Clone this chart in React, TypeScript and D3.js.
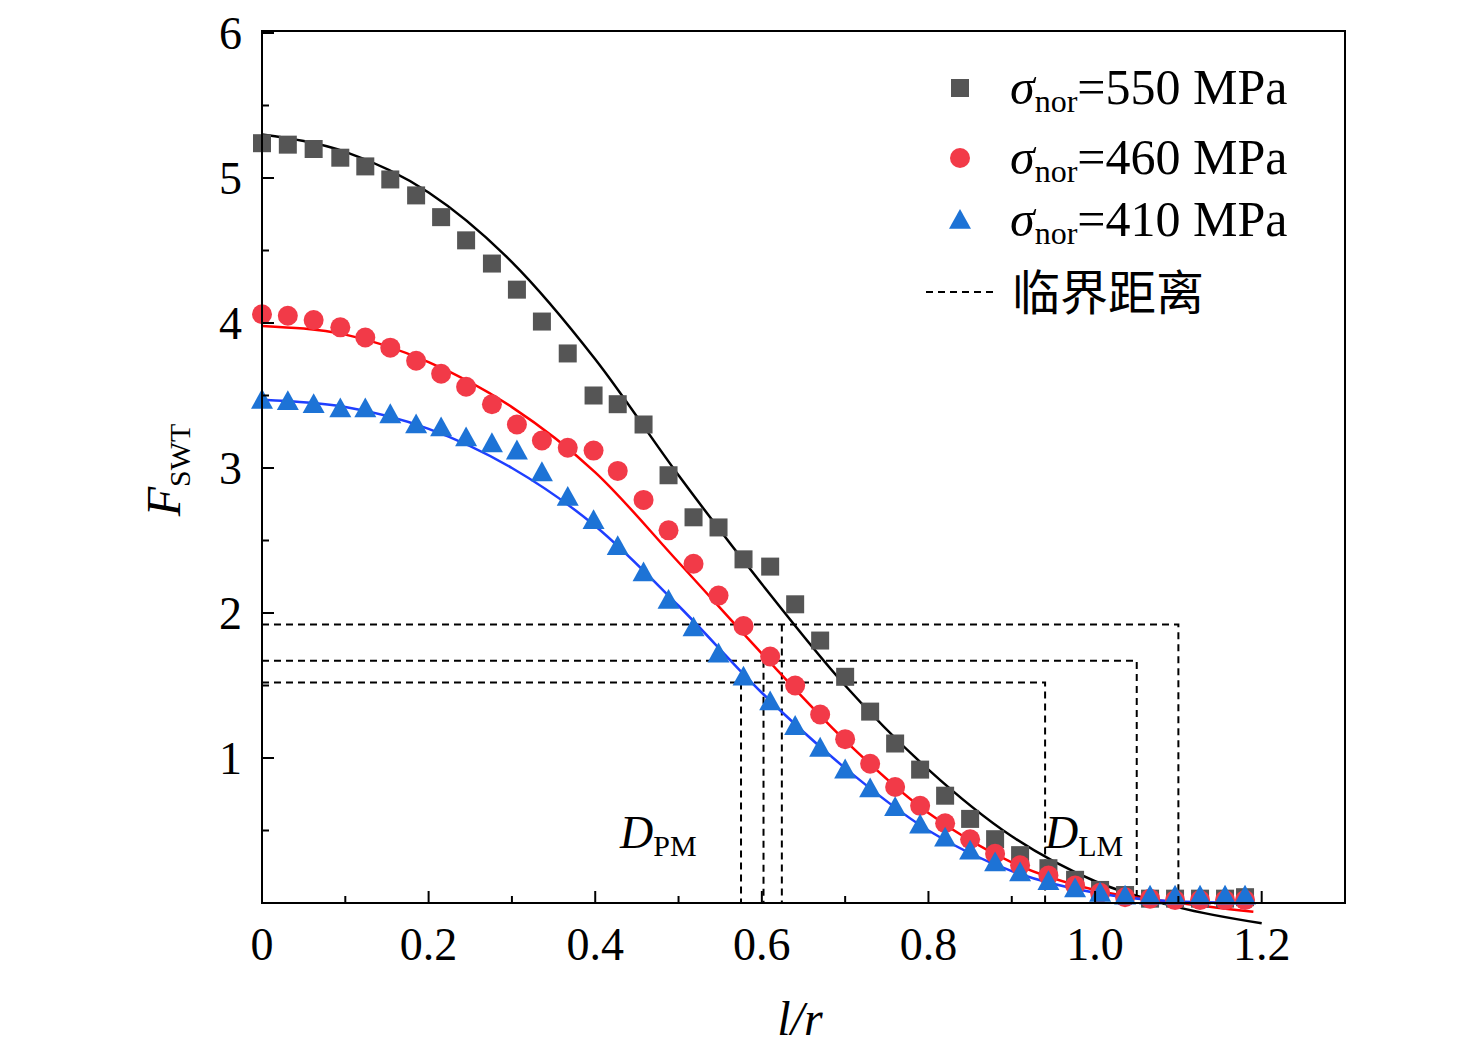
import React from "react";
import * as d3 from "d3";

const xs = [0, 0.031, 0.062, 0.094, 0.124, 0.154, 0.185, 0.215, 0.245, 0.276, 0.306, 0.336, 0.367, 0.398, 0.427, 0.458, 0.488, 0.518, 0.548, 0.578, 0.61, 0.64, 0.67, 0.7, 0.73, 0.76, 0.79, 0.82, 0.85, 0.88, 0.91, 0.944, 0.976, 1.006, 1.036, 1.066, 1.096, 1.126, 1.156, 1.18];
const sq550 = [5.24, 5.23, 5.2, 5.14, 5.08, 4.99, 4.88, 4.73, 4.57, 4.41, 4.23, 4.01, 3.79, 3.5, 3.44, 3.3, 2.95, 2.66, 2.59, 2.37, 2.32, 2.06, 1.81, 1.56, 1.32, 1.1, 0.92, 0.74, 0.58, 0.44, 0.33, 0.24, 0.16, 0.09, 0.055, 0.03, 0.03, 0.03, 0.03, 0.04];
const ci460 = [4.06, 4.05, 4.02, 3.97, 3.9, 3.83, 3.74, 3.65, 3.56, 3.44, 3.3, 3.19, 3.14, 3.12, 2.98, 2.78, 2.57, 2.34, 2.12, 1.91, 1.7, 1.5, 1.3, 1.13, 0.96, 0.8, 0.67, 0.55, 0.44, 0.34, 0.26, 0.19, 0.12, 0.07, 0.04, 0.03, 0.02, 0.02, 0.02, 0.02];
const tr410 = [3.47, 3.46, 3.44, 3.41, 3.41, 3.37, 3.3, 3.28, 3.21, 3.17, 3.12, 2.97, 2.8, 2.64, 2.46, 2.28, 2.09, 1.9, 1.72, 1.56, 1.39, 1.22, 1.07, 0.92, 0.79, 0.66, 0.54, 0.45, 0.36, 0.28, 0.21, 0.15, 0.1, 0.07, 0.05, 0.05, 0.05, 0.05, 0.05, 0.05];

const fitX = [0, 0.1, 0.2, 0.3, 0.4, 0.5, 0.6, 0.7, 0.8, 0.9, 1.0, 1.1, 1.2];
const fit550 = [5.3, 5.18, 4.9, 4.42, 3.75, 2.95, 2.2, 1.5, 0.92, 0.46, 0.15, -0.03, -0.14];
const fitXs = [0, 0.1, 0.2, 0.3, 0.4, 0.5, 0.6, 0.7, 0.8, 0.9, 1.0, 1.1, 1.19];
const fit460 = [3.98, 3.92, 3.73, 3.42, 2.97, 2.35, 1.72, 1.12, 0.62, 0.28, 0.09, 0.0, -0.06];
const fit410 = [3.47, 3.42, 3.27, 3.0, 2.6, 2.05, 1.45, 0.93, 0.5, 0.22, 0.07, 0.01, 0.0];

// critical distances: [F level, D_PM, D_LM]
const critical = [
  [1.92, 0.624, 1.1],
  [1.67, 0.602, 1.05],
  [1.52, 0.575, 0.94],
];

const xTicks = [0, 0.2, 0.4, 0.6, 0.8, 1.0, 1.2];
const yTicks = [1, 2, 3, 4, 5, 6];

export default function App() {
  const W = 1476, H = 1059;
  const x = d3.scaleLinear().domain([0, 1.3]).range([262, 1345]);
  const y = d3.scaleLinear().domain([0, 6]).range([903, 33]);
  const font = "'Liberation Serif', 'Times New Roman', serif";
  const line = (xa: number[], ya: number[]) =>
    d3.line<number>().x((_, i) => x(xa[i])).y((d) => y(d)).curve(d3.curveMonotoneX)(ya) || "";
  const tri = (cx: number, cy: number, s = 11) =>
    `M${cx},${cy - s} L${cx + s},${cy + s * 0.8} L${cx - s},${cy + s * 0.8} Z`;

  return (
    <svg width={W} height={H} style={{ position: "absolute", left: 0, top: 0, background: "#fff" }} fontFamily={font}>
      <rect x={0} y={0} width={W} height={H} fill="#fff" />
      {critical.map(([f, a, b], i) => (
        <g key={i} stroke="#000" strokeWidth={2} strokeDasharray="7,5" fill="none">
          <path d={`M${x(0)},${y(f)} H${x(b)} V${y(0)}`} />
          <path d={`M${x(a)},${y(f)} V${y(0)}`} />
        </g>
      ))}
      <path d={line(fitX, fit550)} stroke="#000" strokeWidth={2.5} fill="none" />
      <path d={line(fitXs, fit460)} stroke="#f00" strokeWidth={2.5} fill="none" />
      <path d={line(fitXs, fit410)} stroke="#1f3fff" strokeWidth={2.5} fill="none" />
      {xs.map((v, i) => (
        <rect key={"s" + i} x={x(v) - 9} y={y(sq550[i]) - 9} width={18} height={18} fill="#555" />
      ))}
      {xs.map((v, i) => (
        <circle key={"c" + i} cx={x(v)} cy={y(ci460[i])} r={10} fill="#f23a48" />
      ))}
      {xs.map((v, i) => (
        <path key={"t" + i} d={tri(x(v), y(tr410[i]))} fill="#1d73d6" />
      ))}
      <rect x={262} y={31} width={1083} height={872} fill="none" stroke="#000" strokeWidth={2} />
      {yTicks.map((t) => (
        <g key={t}>
          <line x1={262} x2={274} y1={y(t)} y2={y(t)} stroke="#000" strokeWidth={2} />
          <line x1={262} x2={269} y1={y(t - 0.5)} y2={y(t - 0.5)} stroke="#000" strokeWidth={2} />
          <text x={242} y={y(t) + 16} fontSize={46} textAnchor="end">{t}</text>
        </g>
      ))}
      {xTicks.map((t) => (
        <g key={t}>
          <line x1={x(t)} x2={x(t)} y1={903} y2={891} stroke="#000" strokeWidth={2} />
          <line x1={x(t + 0.1)} x2={x(t + 0.1)} y1={903} y2={896} stroke="#000" strokeWidth={2} />
          <text x={x(t)} y={960} fontSize={46} textAnchor="middle">{t === 0 ? "0" : t.toFixed(1)}</text>
        </g>
      ))}
      <text x={800} y={1035} fontSize={48} textAnchor="middle" fontStyle="italic">l/r</text>
      <g transform="translate(180,470) rotate(-90)">
        <text fontSize={48} textAnchor="middle">
          <tspan fontStyle="italic">F</tspan>
          <tspan fontSize={30} dy={10}>SWT</tspan>
        </text>
      </g>
      <text x={620} y={848} fontSize={46}>
        <tspan fontStyle="italic">D</tspan><tspan fontSize={30} dy={8}>PM</tspan>
      </text>
      <text x={1045} y={848} fontSize={46}>
        <tspan fontStyle="italic">D</tspan><tspan fontSize={30} dy={8}>LM</tspan>
      </text>
      {/* legend */}
      <rect x={951} y={79} width={18} height={18} fill="#555" />
      <circle cx={960} cy={158} r={10} fill="#f23a48" />
      <path d={tri(960, 220)} fill="#1d73d6" />
      <line x1={926} x2={996} y1={292} y2={292} stroke="#000" strokeWidth={2} strokeDasharray="7,5" />
      {["550", "460", "410"].map((v, i) => (
        <text key={v} x={1010} y={[104, 174, 236][i]} fontSize={50}>
          <tspan fontStyle="italic">σ</tspan><tspan fontSize={32} dy={8}>nor</tspan><tspan dy={-8}>={v} MPa</tspan>
        </text>
      ))}
      <text x={1012} y={310} fontSize={48} fontFamily="'Noto Sans CJK SC', sans-serif">临界距离</text>
    </svg>
  );
}
